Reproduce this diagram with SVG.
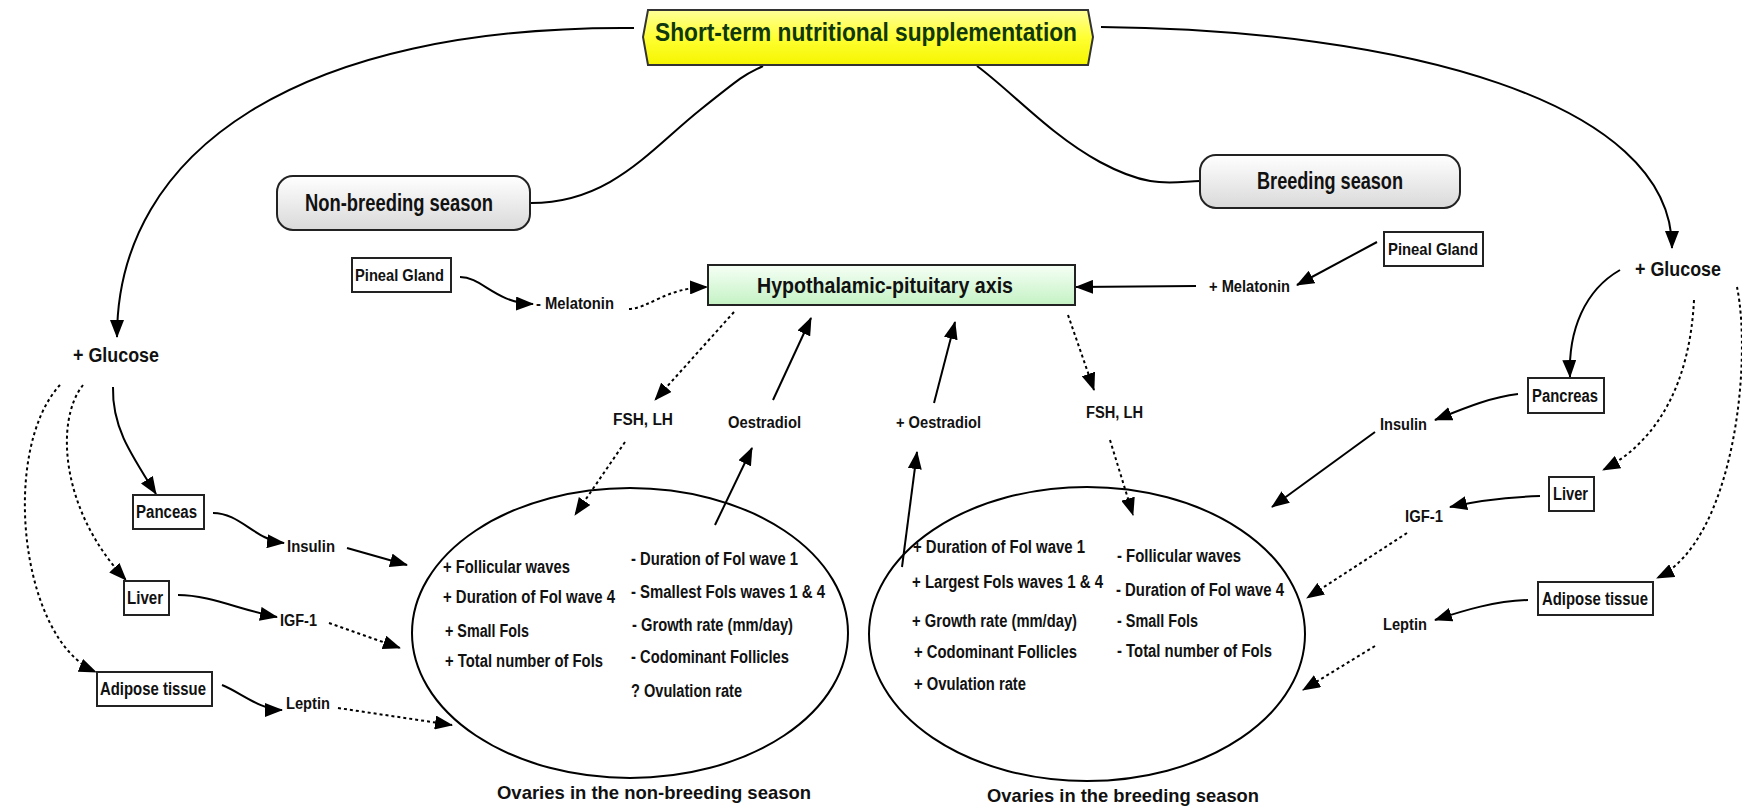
<svg xmlns="http://www.w3.org/2000/svg" width="1742" height="806" viewBox="0 0 1742 806">
<defs>
<linearGradient id="gYellow" x1="0" y1="0" x2="0" y2="1"><stop offset="0" stop-color="#ffff99"/><stop offset="0.5" stop-color="#ffff33"/><stop offset="1" stop-color="#f5f500"/></linearGradient>
<linearGradient id="gGray" x1="0" y1="0" x2="0" y2="1"><stop offset="0" stop-color="#ffffff"/><stop offset="1" stop-color="#d9d9d9"/></linearGradient>
<linearGradient id="gGreen" x1="0" y1="0" x2="0" y2="1"><stop offset="0" stop-color="#f6fff6"/><stop offset="1" stop-color="#c4f2c4"/></linearGradient>
<marker id="ah" viewBox="0 0 18 14" refX="17" refY="7" markerWidth="18" markerHeight="14" markerUnits="userSpaceOnUse" orient="auto"><path d="M0,0 L18,7 L0,14 z" fill="#000"/></marker>
<style>
text{font-family:"Liberation Sans",Arial,sans-serif;font-weight:bold;fill:#111;}
.t{font-size:17px}
.s{font-size:16px}
.e{font-size:18px}
.g{font-size:20px}
.box{fill:#fff;stroke:#222;stroke-width:2}
.ln{fill:none;stroke:#000;stroke-width:2;marker-end:url(#ah)}
.nl{fill:none;stroke:#000;stroke-width:2}
.dt{fill:none;stroke:#000;stroke-width:2;stroke-dasharray:3 3;marker-end:url(#ah)}
.ov{fill:none;stroke:#000;stroke-width:2}
</style>
</defs>
<rect width="1742" height="806" fill="#fff"/>

<g id="connectors">
<path class="ln" d="M 634 28 C 300 25, 117 150, 117 337"/>
<path class="ln" d="M 1101 27 C 1400 30, 1672 100, 1672 248"/>
<path class="nl" d="M 531 203 C 610 203, 650 150, 700 110 S 745 75, 763 66"/>
<path class="nl" d="M 977 66 C 1010 90, 1050 135, 1100 162 S 1170 182, 1200 181"/>
<path class="ln" d="M 460 277 C 482 277, 495 303, 533 304"/>
<path class="dt" d="M 629 309 C 650 308, 665 288, 707 287"/>
<path class="ln" d="M 1377 242 L 1297 285"/>
<path class="ln" d="M 1196 286 L 1076 287"/>
<path class="dt" d="M 734 312 L 655 400"/>
<path class="dt" d="M 625 442 L 575 515"/>
<path class="ln" d="M 715 525 L 752 448"/>
<path class="ln" d="M 773 400 L 811 318"/>
<path class="ln" d="M 934 403 L 955 322"/>
<path class="ln" d="M 902 567 L 917 452"/>
<path class="dt" d="M 1068 315 L 1094 390"/>
<path class="dt" d="M 1110 440 L 1133 515"/>
<path class="ln" d="M 113 387 C 112 425, 128 450, 156 494"/>
<path class="ln" d="M 213 513 C 240 513, 255 540, 284 543"/>
<path class="ln" d="M 347 548 L 407 565"/>
<path class="dt" d="M 83 385 C 55 420, 60 510, 126 580"/>
<path class="ln" d="M 178 595 C 210 595, 240 610, 277 617"/>
<path class="dt" d="M 329 623 L 400 648"/>
<path class="dt" d="M 60 385 C 0 450, 20 640, 96 672"/>
<path class="ln" d="M 222 685 C 240 692, 260 710, 282 710"/>
<path class="dt" d="M 338 708 L 452 725"/>
<path class="ln" d="M 1620 270 C 1585 290, 1568 330, 1570 377"/>
<path class="ln" d="M 1518 394 C 1490 397, 1460 410, 1435 420"/>
<path class="ln" d="M 1375 432 L 1272 507"/>
<path class="dt" d="M 1694 300 C 1690 380, 1660 440, 1603 470"/>
<path class="ln" d="M 1540 496 C 1510 497, 1480 500, 1450 507"/>
<path class="dt" d="M 1407 533 L 1307 598"/>
<path class="dt" d="M 1737 287 C 1752 360, 1735 540, 1657 578"/>
<path class="ln" d="M 1528 600 C 1495 601, 1465 610, 1435 620"/>
<path class="dt" d="M 1375 646 L 1303 690"/>
</g>

<g id="title">
<polygon points="648,10 1088,10 1093,37 1088,65 648,65 643,37" fill="url(#gYellow)" stroke="#333" stroke-width="2"/>
<text x="866" y="41" text-anchor="middle" font-size="25" style="fill:#0f380f" textLength="422" lengthAdjust="spacingAndGlyphs">Short-term nutritional supplementation</text>
</g>
<g id="non-breeding-season">
<rect x="277" y="176" width="253" height="54" rx="16" fill="url(#gGray)" stroke="#222" stroke-width="2"/>
<text x="399" y="211" text-anchor="middle" font-size="23" textLength="188" lengthAdjust="spacingAndGlyphs">Non-breeding season</text>
</g>
<g id="breeding-season">
<rect x="1200" y="155" width="260" height="53" rx="16" fill="url(#gGray)" stroke="#222" stroke-width="2"/>
<text x="1330" y="189" text-anchor="middle" font-size="23" textLength="146" lengthAdjust="spacingAndGlyphs">Breeding season</text>
</g>
<g id="hpa">
<rect x="708" y="265" width="367" height="40" fill="url(#gGreen)" stroke="#222" stroke-width="2"/>
<text x="885" y="293" text-anchor="middle" font-size="22" textLength="256" lengthAdjust="spacingAndGlyphs">Hypothalamic-pituitary axis</text>
</g>
<g id="pineal-left">
<rect class="box" x="352" y="258" width="99" height="34"/>
<text class="t" x="355" y="281" textLength="89" lengthAdjust="spacingAndGlyphs">Pineal Gland</text>
</g>
<g id="melatonin-left"><text class="s" x="536" y="309" textLength="78" lengthAdjust="spacingAndGlyphs">- Melatonin</text></g>
<g id="pineal-right">
<rect class="box" x="1384" y="232" width="99" height="34"/>
<text class="t" x="1388" y="255" textLength="90" lengthAdjust="spacingAndGlyphs">Pineal Gland</text>
</g>
<g id="melatonin-right"><text class="s" x="1209" y="292" textLength="81" lengthAdjust="spacingAndGlyphs">+ Melatonin</text></g>

<g id="glucose-left"><text class="g" x="73" y="362" textLength="86" lengthAdjust="spacingAndGlyphs">+ Glucose</text></g>
<g id="panceas-left"><rect class="box" x="133" y="495" width="71" height="34"/><text class="e" x="136" y="518" textLength="61" lengthAdjust="spacingAndGlyphs">Panceas</text></g>
<g id="insulin-left"><text class="t" x="287" y="552" textLength="48" lengthAdjust="spacingAndGlyphs">Insulin</text></g>
<g id="liver-left"><rect class="box" x="124" y="581" width="45" height="34"/><text class="e" x="127" y="604" textLength="36" lengthAdjust="spacingAndGlyphs">Liver</text></g>
<g id="igf-left"><text class="t" x="280" y="626" textLength="37" lengthAdjust="spacingAndGlyphs">IGF-1</text></g>
<g id="adipose-left"><rect class="box" x="97" y="672" width="115" height="34"/><text class="e" x="100" y="695" textLength="106" lengthAdjust="spacingAndGlyphs">Adipose tissue</text></g>
<g id="leptin-left"><text class="t" x="286" y="709" textLength="44" lengthAdjust="spacingAndGlyphs">Leptin</text></g>

<g id="glucose-right"><text class="g" x="1635" y="276" textLength="86" lengthAdjust="spacingAndGlyphs">+ Glucose</text></g>
<g id="pancreas-right"><rect class="box" x="1528" y="378" width="76" height="35"/><text class="e" x="1532" y="402" textLength="66" lengthAdjust="spacingAndGlyphs">Pancreas</text></g>
<g id="insulin-right"><text class="t" x="1380" y="430" textLength="47" lengthAdjust="spacingAndGlyphs">Insulin</text></g>
<g id="liver-right"><rect class="box" x="1549" y="477" width="45" height="34"/><text class="e" x="1553" y="500" textLength="35" lengthAdjust="spacingAndGlyphs">Liver</text></g>
<g id="igf-right"><text class="t" x="1405" y="522" textLength="38" lengthAdjust="spacingAndGlyphs">IGF-1</text></g>
<g id="adipose-right"><rect class="box" x="1538" y="582" width="115" height="33"/><text class="e" x="1542" y="605" textLength="106" lengthAdjust="spacingAndGlyphs">Adipose tissue</text></g>
<g id="leptin-right"><text class="t" x="1383" y="630" textLength="44" lengthAdjust="spacingAndGlyphs">Leptin</text></g>

<g id="fsh-left"><text class="s" x="613" y="425" textLength="60" lengthAdjust="spacingAndGlyphs">FSH, LH</text></g>
<g id="oestradiol-left"><text class="s" x="728" y="428" textLength="73" lengthAdjust="spacingAndGlyphs">Oestradiol</text></g>
<g id="oestradiol-right"><text class="s" x="896" y="428" textLength="85" lengthAdjust="spacingAndGlyphs">+ Oestradiol</text></g>
<g id="fsh-right"><text class="s" x="1086" y="418" textLength="57" lengthAdjust="spacingAndGlyphs">FSH, LH</text></g>

<g id="ovaries-non-breeding">
<ellipse class="ov" cx="630" cy="633" rx="218" ry="145"/>
<text class="e" x="443" y="573" textLength="127" lengthAdjust="spacingAndGlyphs">+ Follicular waves</text>
<text class="e" x="443" y="603" textLength="172" lengthAdjust="spacingAndGlyphs">+ Duration of Fol wave 4</text>
<text class="e" x="445" y="637" textLength="84" lengthAdjust="spacingAndGlyphs">+ Small Fols</text>
<text class="e" x="445" y="667" textLength="158" lengthAdjust="spacingAndGlyphs">+ Total number of Fols</text>
<text class="e" x="631" y="565" textLength="167" lengthAdjust="spacingAndGlyphs">- Duration of Fol wave 1</text>
<text class="e" x="631" y="598" textLength="194" lengthAdjust="spacingAndGlyphs">- Smallest Fols waves 1 &amp; 4</text>
<text class="e" x="632" y="631" textLength="161" lengthAdjust="spacingAndGlyphs">- Growth rate (mm/day)</text>
<text class="e" x="631" y="663" textLength="158" lengthAdjust="spacingAndGlyphs">- Codominant Follicles</text>
<text class="e" x="631" y="697" textLength="111" lengthAdjust="spacingAndGlyphs">? Ovulation rate</text>
<text x="654" y="799" text-anchor="middle" font-size="19" textLength="314" lengthAdjust="spacingAndGlyphs">Ovaries in the non-breeding season</text>
</g>
<g id="ovaries-breeding">
<ellipse class="ov" cx="1087" cy="634" rx="218" ry="147"/>
<text class="e" x="913" y="553" textLength="172" lengthAdjust="spacingAndGlyphs">+ Duration of Fol wave 1</text>
<text class="e" x="912" y="588" textLength="191" lengthAdjust="spacingAndGlyphs">+ Largest Fols waves 1 &amp; 4</text>
<text class="e" x="912" y="627" textLength="165" lengthAdjust="spacingAndGlyphs">+ Growth rate (mm/day)</text>
<text class="e" x="914" y="658" textLength="163" lengthAdjust="spacingAndGlyphs">+ Codominant Follicles</text>
<text class="e" x="914" y="690" textLength="112" lengthAdjust="spacingAndGlyphs">+ Ovulation rate</text>
<text class="e" x="1117" y="562" textLength="124" lengthAdjust="spacingAndGlyphs">- Follicular waves</text>
<text class="e" x="1116" y="596" textLength="168" lengthAdjust="spacingAndGlyphs">- Duration of Fol wave 4</text>
<text class="e" x="1117" y="627" textLength="81" lengthAdjust="spacingAndGlyphs">- Small Fols</text>
<text class="e" x="1117" y="657" textLength="155" lengthAdjust="spacingAndGlyphs">- Total number of Fols</text>
<text x="1123" y="802" text-anchor="middle" font-size="19" textLength="272" lengthAdjust="spacingAndGlyphs">Ovaries in the breeding season</text>
</g>
</svg>
